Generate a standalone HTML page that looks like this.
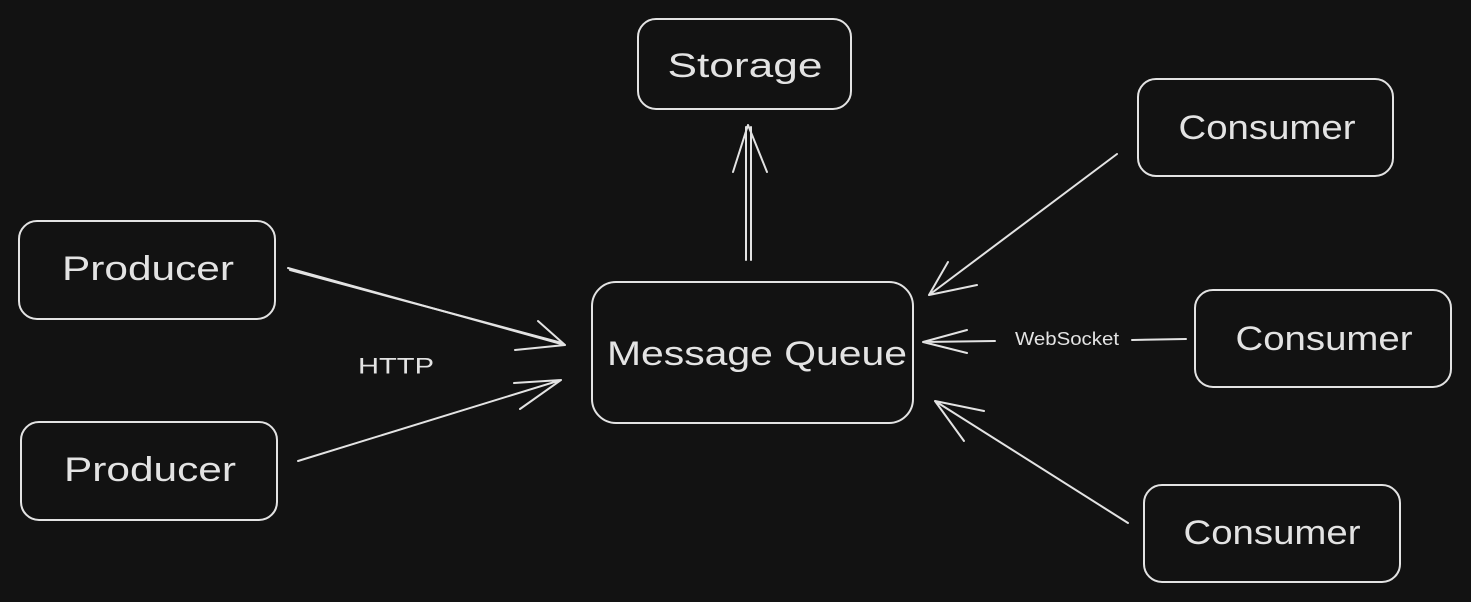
<!DOCTYPE html>
<html><head><meta charset="utf-8"><style>
html,body{margin:0;padding:0;background:#121212;}
svg{display:block;}
text{font-family:"Liberation Sans","DejaVu Sans",sans-serif;fill:#e3e3e3;}
</style></head><body>
<svg width="1471" height="602" viewBox="0 0 1471 602" xmlns="http://www.w3.org/2000/svg">
<rect width="1471" height="602" fill="#121212"/>
<g fill="none" stroke="#e3e3e3" stroke-width="2" stroke-linecap="round" stroke-linejoin="round">
<rect x="638" y="19" width="213" height="90" rx="18"/>
<rect x="1138" y="79" width="255" height="97" rx="18"/>
<rect x="19" y="221" width="256" height="98" rx="18"/>
<rect x="592" y="282" width="321" height="141" rx="24"/>
<rect x="1195" y="290" width="256" height="97" rx="18"/>
<rect x="21" y="422" width="256" height="98" rx="18"/>
<rect x="1144" y="485" width="256" height="97" rx="18"/>
<!-- producer1 -->
<path d="M288 268 L565 345 M565 345 L538 321 M565 345 L515 350"/>
<path d="M290 270 L562 343"/>
<!-- producer2 -->
<path d="M298 461 L561 380 M561 380 L520 409 M561 380 L514 383"/>
<!-- storage -->
<path d="M746 260 L746 127 M751 260 L751 127 M748 125 L733 172 M748 125 L767 172"/>
<!-- consumer1 -->
<path d="M1117 154 L929 295 M929 295 L948 262 M929 295 L977 285"/>
<!-- consumer2 -->
<path d="M1186 339 L1132 340 M995 341 L923 342 M923 342 L967 330 M923 342 L967 353"/>
<!-- consumer3 -->
<path d="M1128 523 L935 401 M935 401 L984 411 M935 401 L964 441"/>
</g>
<g font-size="34" text-anchor="middle" dominant-baseline="central">
<text x="745" y="66" textLength="155" lengthAdjust="spacingAndGlyphs">Storage</text>
<text x="1267" y="128" textLength="177" lengthAdjust="spacingAndGlyphs">Consumer</text>
<text x="148" y="269" textLength="172" lengthAdjust="spacingAndGlyphs">Producer</text>
<text x="757" y="354" textLength="300" lengthAdjust="spacingAndGlyphs">Message Queue</text>
<text x="1324" y="339" textLength="177" lengthAdjust="spacingAndGlyphs">Consumer</text>
<text x="150" y="470" textLength="172" lengthAdjust="spacingAndGlyphs">Producer</text>
<text x="1272" y="533" textLength="177" lengthAdjust="spacingAndGlyphs">Consumer</text>
</g>
<text x="1067" y="339" font-size="18" text-anchor="middle" dominant-baseline="central" textLength="104" lengthAdjust="spacingAndGlyphs">WebSocket</text>
<text x="396" y="366" font-size="22" text-anchor="middle" dominant-baseline="central" textLength="76" lengthAdjust="spacingAndGlyphs">HTTP</text>
</svg>
</body></html>
